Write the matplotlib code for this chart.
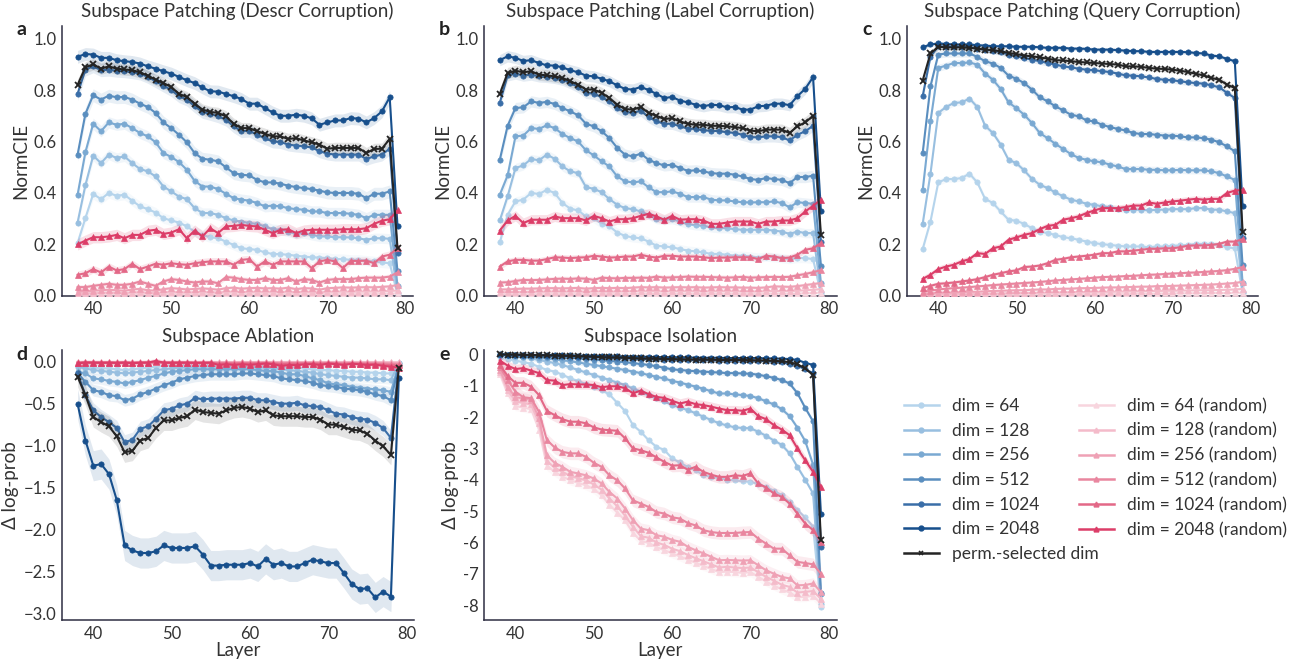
import matplotlib
matplotlib.use("Agg")
import matplotlib.pyplot as plt
from matplotlib.lines import Line2D

plt.rcParams['font.family'] = ['Lato', 'DejaVu Sans']

layers = list(range(38, 80))
dims = [64, 128, 256, 512, 1024, 2048]

# ---------------- a: Subspace Patching (Descr Corruption) ----------------
A_64 = [0.205,0.302,0.396,0.376,0.40,0.389,0.393,0.37,0.348,0.337, 0.324,0.302,0.293,0.285,0.27,0.25,0.237,0.228,0.224,0.211, 0.198,0.185,0.182,0.179,0.169,0.163,0.162,0.16,0.156,0.153, 0.15,0.149,0.147,0.143,0.143,0.14,0.14,0.137,0.134,0.13, 0.127,0.005]
A_128 = [0.285,0.43,0.545,0.516,0.549,0.536,0.542,0.516,0.493,0.484, 0.464,0.425,0.406,0.386,0.376,0.341,0.322,0.322,0.315,0.302, 0.293,0.289,0.283,0.28,0.27,0.259,0.257,0.25,0.241,0.244, 0.237,0.231,0.231,0.228,0.228,0.227,0.224,0.218,0.224,0.224, 0.222,0.01]
A_256 = [0.393,0.558,0.669,0.64,0.674,0.665,0.669,0.652,0.633,0.62, 0.597,0.555,0.54,0.52,0.49,0.447,0.425,0.425,0.415,0.397, 0.38,0.374,0.37,0.361,0.348,0.351,0.348,0.341,0.337,0.335, 0.328,0.328,0.322,0.322,0.322,0.319,0.315,0.302,0.315,0.315, 0.315,0.04]
A_512 = [0.549,0.707,0.78,0.763,0.778,0.772,0.773,0.763,0.747,0.734, 0.711,0.674,0.652,0.626,0.597,0.555,0.533,0.529,0.523,0.50, 0.477,0.471,0.468,0.451,0.441,0.441,0.436,0.428,0.423,0.419, 0.415,0.409,0.402,0.40,0.40,0.40,0.397,0.38,0.397,0.397, 0.406,0.095]
A_1024 = [0.785,0.879,0.892,0.877,0.879,0.875,0.873,0.869,0.864,0.851, 0.834,0.817,0.80,0.776,0.763,0.737,0.715,0.707,0.698,0.685, 0.659,0.64,0.642,0.626,0.613,0.60,0.598,0.588,0.584,0.581, 0.577,0.562,0.553,0.549,0.549,0.549,0.549,0.532,0.542,0.549, 0.572,0.166]
A_2048 = [0.929,0.94,0.938,0.925,0.925,0.916,0.912,0.909,0.903,0.892, 0.883,0.873,0.864,0.851,0.838,0.827,0.81,0.795,0.794,0.785, 0.776,0.765,0.747,0.747,0.73,0.713,0.70,0.70,0.704,0.70, 0.69,0.665,0.674,0.682,0.682,0.691,0.689,0.674,0.691,0.717, 0.772,0.27]
A_perm = [0.82,0.888,0.90,0.883,0.892,0.883,0.88,0.877,0.869,0.856, 0.84,0.827,0.812,0.785,0.773,0.747,0.724,0.715,0.711,0.698, 0.669,0.652,0.652,0.64,0.63,0.62,0.62,0.61,0.613,0.604, 0.597,0.588,0.572,0.575,0.575,0.575,0.575,0.555,0.571,0.572, 0.61,0.185]
A_r64 = [0.004,0.005,0.005,0.006,0.006,0.006,0.005,0.006,0.007,0.006, 0.005,0.007,0.007,0.007,0.006,0.007,0.007,0.007,0.006,0.008, 0.008,0.007,0.007,0.008,0.007,0.008,0.007,0.008,0.007,0.008, 0.007,0.006,0.008,0.008,0.008,0.008,0.008,0.008,0.008,0.009, 0.009,0.01]
A_r128 = [0.009,0.01,0.011,0.012,0.013,0.012,0.011,0.013,0.014,0.012, 0.011,0.014,0.015,0.014,0.013,0.014,0.015,0.014,0.013,0.016, 0.016,0.015,0.015,0.016,0.015,0.016,0.015,0.016,0.014,0.016, 0.015,0.013,0.016,0.016,0.017,0.016,0.017,0.017,0.017,0.018, 0.019,0.021]
A_r256 = [0.016,0.018,0.02,0.022,0.024,0.022,0.02,0.025,0.027,0.022, 0.02,0.026,0.03,0.028,0.025,0.027,0.029,0.027,0.024,0.03, 0.032,0.028,0.03,0.031,0.029,0.03,0.028,0.032,0.026,0.03, 0.029,0.024,0.03,0.031,0.033,0.032,0.033,0.034,0.033,0.035, 0.037,0.042]
A_r512 = [0.034,0.034,0.039,0.043,0.047,0.043,0.043,0.047,0.056,0.047, 0.039,0.056,0.065,0.062,0.056,0.052,0.056,0.056,0.049,0.073, 0.071,0.065,0.062,0.062,0.069,0.062,0.062,0.069,0.056,0.065, 0.062,0.052,0.062,0.065,0.065,0.065,0.069,0.071,0.071,0.071, 0.075,0.091]
A_r1024 = [0.082,0.088,0.104,0.091,0.114,0.099,0.104,0.125,0.104,0.114, 0.125,0.121,0.127,0.123,0.121,0.127,0.131,0.134,0.134,0.134, 0.121,0.14,0.143,0.114,0.134,0.121,0.134,0.134,0.134,0.134, 0.108,0.134,0.14,0.134,0.108,0.136,0.136,0.137,0.127,0.153, 0.16,0.185]
A_r2048 = [0.20,0.215,0.228,0.228,0.231,0.237,0.224,0.237,0.237,0.253, 0.257,0.241,0.246,0.259,0.224,0.254,0.231,0.263,0.244,0.27, 0.272,0.276,0.272,0.27,0.257,0.244,0.257,0.259,0.244,0.254, 0.257,0.257,0.257,0.257,0.259,0.259,0.259,0.263,0.28,0.292, 0.298,0.332]

# ---------------- b: Subspace Patching (Label Corruption) ----------------
B_64 = [0.208,0.315,0.367,0.374,0.40,0.396,0.412,0.40,0.361,0.339, 0.332,0.309,0.302,0.28,0.27,0.246,0.233,0.227,0.224,0.211, 0.195,0.192,0.189,0.182,0.176,0.173,0.169,0.163,0.163,0.16, 0.156,0.156,0.153,0.149,0.153,0.15,0.147,0.143,0.147,0.147, 0.143,0.008]
B_128 = [0.293,0.387,0.497,0.507,0.532,0.527,0.549,0.533,0.503,0.484, 0.477,0.423,0.416,0.403,0.376,0.354,0.341,0.337,0.328,0.315, 0.298,0.296,0.298,0.289,0.279,0.274,0.272,0.266,0.263,0.263, 0.259,0.257,0.257,0.257,0.257,0.254,0.25,0.241,0.25,0.244, 0.244,0.017]
B_256 = [0.393,0.468,0.62,0.623,0.652,0.649,0.663,0.652,0.629,0.613, 0.60,0.566,0.546,0.523,0.503,0.464,0.445,0.441,0.445,0.422, 0.403,0.403,0.406,0.397,0.384,0.384,0.384,0.374,0.371,0.371, 0.367,0.364,0.363,0.364,0.364,0.367,0.361,0.344,0.364,0.361, 0.358,0.05]
B_512 = [0.529,0.661,0.73,0.733,0.756,0.75,0.754,0.746,0.73,0.717, 0.702,0.669,0.659,0.64,0.613,0.575,0.549,0.542,0.553,0.529, 0.516,0.507,0.51,0.497,0.486,0.488,0.484,0.477,0.475,0.475, 0.471,0.464,0.454,0.451,0.458,0.454,0.451,0.438,0.462,0.462, 0.467,0.118]
B_1024 = [0.75,0.857,0.864,0.856,0.86,0.853,0.851,0.847,0.84,0.827, 0.812,0.789,0.786,0.772,0.756,0.73,0.715,0.711,0.72,0.695, 0.678,0.669,0.669,0.659,0.65,0.649,0.643,0.642,0.64,0.636, 0.633,0.626,0.617,0.616,0.62,0.62,0.617,0.604,0.626,0.64, 0.661,0.211]
B_2048 = [0.916,0.931,0.925,0.913,0.916,0.905,0.896,0.895,0.888,0.877, 0.869,0.856,0.853,0.844,0.834,0.818,0.804,0.802,0.812,0.80, 0.785,0.769,0.773,0.759,0.752,0.743,0.737,0.743,0.741,0.733, 0.734,0.724,0.724,0.737,0.739,0.747,0.747,0.741,0.776,0.805, 0.85,0.328]
B_perm = [0.785,0.866,0.875,0.869,0.873,0.86,0.857,0.853,0.847,0.834, 0.821,0.802,0.802,0.789,0.769,0.743,0.726,0.724,0.734,0.711, 0.70,0.687,0.691,0.678,0.669,0.665,0.665,0.661,0.661,0.659, 0.656,0.652,0.642,0.64,0.646,0.646,0.646,0.633,0.659,0.674, 0.70,0.237]
B_r64 = [0.006,0.006,0.007,0.007,0.007,0.007,0.007,0.008,0.007,0.008, 0.008,0.007,0.008,0.008,0.007,0.008,0.008,0.008,0.008,0.008, 0.008,0.008,0.008,0.008,0.008,0.008,0.008,0.008,0.008,0.008, 0.008,0.008,0.008,0.008,0.008,0.009,0.009,0.009,0.009,0.01, 0.011,0.012]
B_r128 = [0.014,0.014,0.015,0.015,0.016,0.016,0.016,0.017,0.016,0.017, 0.017,0.016,0.017,0.017,0.016,0.017,0.017,0.018,0.018,0.018, 0.018,0.017,0.018,0.018,0.018,0.018,0.017,0.018,0.018,0.018, 0.018,0.017,0.017,0.017,0.018,0.019,0.019,0.019,0.02,0.022, 0.024,0.026]
B_r256 = [0.025,0.025,0.027,0.028,0.028,0.029,0.03,0.03,0.029,0.03, 0.031,0.028,0.03,0.031,0.03,0.031,0.03,0.032,0.034,0.033, 0.034,0.032,0.033,0.034,0.033,0.034,0.032,0.033,0.034,0.033, 0.033,0.032,0.032,0.031,0.033,0.037,0.036,0.035,0.038,0.042, 0.046,0.05]
B_r512 = [0.052,0.053,0.058,0.062,0.061,0.062,0.064,0.066,0.067,0.066, 0.068,0.067,0.062,0.071,0.069,0.068,0.07,0.07,0.071,0.07, 0.075,0.071,0.072,0.073,0.075,0.074,0.074,0.073,0.072,0.071, 0.072,0.074,0.071,0.072,0.073,0.074,0.073,0.074,0.08,0.085, 0.092,0.1]
B_r1024 = [0.114,0.134,0.14,0.14,0.137,0.137,0.143,0.15,0.149,0.147, 0.149,0.15,0.156,0.153,0.149,0.15,0.153,0.153,0.16,0.153, 0.149,0.156,0.156,0.153,0.153,0.153,0.15,0.147,0.149,0.149, 0.15,0.15,0.15,0.143,0.156,0.153,0.147,0.149,0.16,0.179, 0.185,0.205]
B_r2048 = [0.254,0.293,0.311,0.283,0.296,0.296,0.296,0.309,0.302,0.302, 0.302,0.293,0.311,0.302,0.289,0.298,0.298,0.302,0.311,0.319, 0.309,0.296,0.311,0.296,0.298,0.298,0.293,0.28,0.28,0.285, 0.289,0.289,0.289,0.28,0.289,0.289,0.293,0.293,0.302,0.328, 0.35,0.374]

# ---------------- c: Subspace Patching (Query Corruption) ----------------
C_64 = [0.182,0.289,0.441,0.454,0.454,0.458,0.475,0.441,0.377,0.361, 0.328,0.296,0.292,0.28,0.263,0.25,0.244,0.237,0.228,0.224, 0.218,0.211,0.205,0.201,0.198,0.195,0.192,0.192,0.192,0.189, 0.192,0.192,0.195,0.196,0.198,0.202,0.202,0.202,0.198,0.189, 0.185,0.01]
C_128 = [0.28,0.475,0.711,0.734,0.75,0.752,0.767,0.734,0.661,0.633, 0.588,0.529,0.516,0.488,0.455,0.432,0.419,0.402,0.387,0.374, 0.367,0.358,0.354,0.348,0.345,0.337,0.335,0.335,0.335,0.332, 0.335,0.335,0.337,0.337,0.337,0.341,0.341,0.335,0.335,0.328, 0.322,0.017]
C_256 = [0.41,0.678,0.886,0.895,0.905,0.905,0.907,0.899,0.864,0.84, 0.804,0.752,0.73,0.704,0.672,0.633,0.613,0.591,0.571,0.551, 0.536,0.529,0.523,0.519,0.51,0.503,0.493,0.493,0.493,0.49, 0.49,0.488,0.488,0.49,0.488,0.488,0.488,0.484,0.477,0.464, 0.451,0.05]
C_512 = [0.555,0.815,0.938,0.942,0.942,0.942,0.942,0.929,0.912,0.903, 0.886,0.856,0.844,0.827,0.802,0.772,0.756,0.737,0.721,0.704, 0.698,0.682,0.678,0.665,0.656,0.649,0.643,0.633,0.629,0.629, 0.626,0.623,0.623,0.62,0.616,0.616,0.613,0.607,0.597,0.581, 0.562,0.12]
C_1024 = [0.776,0.93,0.97,0.968,0.968,0.968,0.966,0.961,0.957,0.953, 0.947,0.938,0.931,0.925,0.918,0.912,0.905,0.899,0.892,0.888, 0.883,0.879,0.877,0.873,0.87,0.864,0.857,0.856,0.853,0.849, 0.843,0.84,0.838,0.834,0.83,0.827,0.825,0.818,0.811,0.789, 0.769,0.224]
C_2048 = [0.966,0.977,0.981,0.979,0.977,0.977,0.977,0.974,0.973,0.97, 0.97,0.97,0.968,0.968,0.968,0.966,0.964,0.964,0.964,0.961, 0.961,0.96,0.957,0.957,0.957,0.955,0.953,0.951,0.951,0.948, 0.948,0.948,0.948,0.948,0.947,0.944,0.942,0.934,0.931,0.921, 0.912,0.348]
C_perm = [0.837,0.942,0.968,0.966,0.966,0.966,0.964,0.961,0.957,0.955, 0.951,0.944,0.94,0.934,0.931,0.927,0.922,0.916,0.915,0.912, 0.909,0.907,0.905,0.903,0.901,0.899,0.892,0.892,0.89,0.886, 0.883,0.882,0.879,0.875,0.87,0.863,0.857,0.847,0.84,0.821, 0.808,0.25]
C_r64 = [0.002,0.002,0.003,0.003,0.003,0.003,0.004,0.004,0.004,0.004, 0.005,0.005,0.005,0.005,0.006,0.006,0.006,0.006,0.007,0.007, 0.007,0.007,0.008,0.008,0.008,0.008,0.008,0.009,0.009,0.009, 0.009,0.01,0.01,0.01,0.01,0.01,0.011,0.011,0.011,0.011, 0.012,0.012]
C_r128 = [0.004,0.005,0.006,0.006,0.007,0.007,0.008,0.008,0.009,0.009, 0.01,0.01,0.011,0.011,0.012,0.012,0.013,0.013,0.014,0.014, 0.015,0.015,0.016,0.016,0.016,0.017,0.017,0.018,0.018,0.019, 0.019,0.02,0.02,0.021,0.021,0.022,0.022,0.022,0.023,0.024, 0.025,0.027]
C_r256 = [0.008,0.01,0.012,0.013,0.013,0.015,0.016,0.016,0.018,0.019, 0.02,0.021,0.022,0.022,0.024,0.025,0.025,0.027,0.028,0.028, 0.03,0.03,0.031,0.032,0.033,0.033,0.034,0.035,0.036,0.036, 0.038,0.038,0.039,0.04,0.041,0.042,0.043,0.044,0.046,0.048, 0.05,0.055]
C_r512 = [0.016,0.02,0.025,0.028,0.03,0.032,0.034,0.037,0.039,0.042, 0.044,0.046,0.048,0.05,0.052,0.054,0.057,0.06,0.062,0.064, 0.066,0.068,0.071,0.073,0.074,0.075,0.077,0.078,0.08,0.082, 0.083,0.085,0.087,0.088,0.09,0.091,0.093,0.095,0.097,0.1, 0.105,0.112]
C_r1024 = [0.03,0.039,0.047,0.049,0.052,0.056,0.06,0.065,0.073,0.082, 0.088,0.095,0.099,0.112,0.114,0.118,0.127,0.14,0.144,0.15, 0.153,0.156,0.16,0.166,0.166,0.173,0.173,0.176,0.179,0.183, 0.183,0.185,0.185,0.189,0.195,0.196,0.196,0.198,0.202,0.211, 0.211,0.22]
C_r2048 = [0.066,0.082,0.104,0.114,0.121,0.134,0.143,0.166,0.163,0.185, 0.192,0.218,0.227,0.237,0.244,0.259,0.272,0.276,0.296,0.302, 0.309,0.322,0.332,0.341,0.341,0.341,0.345,0.351,0.351,0.363, 0.358,0.363,0.367,0.37,0.374,0.377,0.374,0.377,0.377,0.40, 0.409,0.412]

# ---------------- d: Subspace Ablation ----------------
D_64 = [-0.04,-0.05,-0.07,-0.08,-0.08,-0.09,-0.10,-0.09,-0.08,-0.07, -0.06,-0.05,-0.05,-0.04,-0.04,-0.04,-0.04,-0.03,-0.03,-0.03, -0.03,-0.03,-0.03,-0.04,-0.04,-0.05,-0.06,-0.07,-0.07,-0.08, -0.09,-0.10,-0.10,-0.11,-0.11,-0.12,-0.12,-0.13,-0.13,-0.14, -0.14,-0.01]
D_128 = [-0.06,-0.08,-0.10,-0.11,-0.12,-0.13,-0.14,-0.13,-0.12,-0.11, -0.10,-0.09,-0.08,-0.07,-0.07,-0.06,-0.06,-0.06,-0.06,-0.06, -0.06,-0.06,-0.06,-0.07,-0.07,-0.08,-0.09,-0.10,-0.11,-0.12, -0.13,-0.15,-0.16,-0.17,-0.18,-0.19,-0.19,-0.20,-0.21,-0.21, -0.22,-0.02]
D_256 = [-0.12,-0.14,-0.20,-0.21,-0.23,-0.24,-0.26,-0.24,-0.22,-0.19, -0.17,-0.14,-0.12,-0.11,-0.10,-0.09,-0.09,-0.09,-0.09,-0.09, -0.09,-0.09,-0.09,-0.10,-0.11,-0.11,-0.13,-0.15,-0.15,-0.17, -0.20,-0.22,-0.26,-0.27,-0.28,-0.30,-0.31,-0.32,-0.33,-0.34, -0.36,-0.03]
D_512 = [-0.14,-0.24,-0.34,-0.36,-0.40,-0.41,-0.46,-0.44,-0.39,-0.36, -0.32,-0.28,-0.25,-0.21,-0.19,-0.17,-0.16,-0.15,-0.15,-0.15, -0.15,-0.14,-0.14,-0.15,-0.16,-0.17,-0.20,-0.21,-0.22,-0.23, -0.25,-0.28,-0.29,-0.30,-0.32,-0.33,-0.34,-0.36,-0.39,-0.41, -0.46,-0.04]
D_1024 = [-0.14,-0.40,-0.58,-0.66,-0.72,-0.79,-0.96,-0.93,-0.80,-0.77, -0.68,-0.58,-0.56,-0.52,-0.50,-0.43,-0.45,-0.44,-0.44,-0.44, -0.44,-0.43,-0.43,-0.46,-0.46,-0.48,-0.50,-0.50,-0.49,-0.52, -0.53,-0.54,-0.58,-0.62,-0.63,-0.66,-0.68,-0.69,-0.73,-0.79, -0.91,-0.04]
D_2048 = [-0.505,-0.94,-1.24,-1.22,-1.34,-1.65,-2.19,-2.25,-2.28,-2.28, -2.26,-2.19,-2.22,-2.22,-2.22,-2.20,-2.30,-2.43,-2.43,-2.42, -2.42,-2.42,-2.40,-2.44,-2.35,-2.42,-2.40,-2.44,-2.44,-2.40, -2.36,-2.38,-2.40,-2.40,-2.52,-2.65,-2.71,-2.70,-2.81,-2.74, -2.80,-0.20]
D_perm = [-0.18,-0.40,-0.66,-0.72,-0.77,-0.89,-1.08,-1.06,-0.94,-0.91, -0.79,-0.70,-0.70,-0.67,-0.65,-0.57,-0.60,-0.61,-0.62,-0.58, -0.55,-0.54,-0.56,-0.60,-0.58,-0.64,-0.65,-0.65,-0.65,-0.66, -0.66,-0.69,-0.75,-0.75,-0.78,-0.81,-0.82,-0.86,-0.94,-1.01, -1.11,-0.08]
D_r64 = [-0.002,-0.002,-0.003,-0.002,-0.002,-0.003,-0.002,-0.002,-0.003,-0.002, -0.002,-0.003,-0.002,-0.002,-0.003,-0.002,-0.003,-0.002,-0.003,-0.003, -0.003,-0.002,-0.003,-0.003,-0.002,-0.003,-0.003,-0.002,-0.003,-0.003, -0.003,-0.002,-0.003,-0.003,-0.003,-0.003,-0.002,-0.003,-0.003,-0.004, -0.004,-0.004]
D_r128 = [-0.004,-0.003,-0.004,-0.004,-0.005,-0.004,-0.004,-0.005,-0.004,-0.004, -0.003,-0.004,-0.005,-0.004,-0.004,-0.005,-0.004,-0.005,-0.005,-0.005, -0.006,-0.005,-0.005,-0.006,-0.005,-0.006,-0.006,-0.005,-0.006,-0.006, -0.005,-0.006,-0.006,-0.006,-0.007,-0.006,-0.006,-0.007,-0.007,-0.008, -0.008,-0.009]
D_r256 = [-0.006,-0.005,-0.006,-0.007,-0.006,-0.007,-0.006,-0.008,-0.007,-0.006, -0.004,-0.007,-0.007,-0.006,-0.007,-0.008,-0.007,-0.008,-0.01,-0.009, -0.01,-0.009,-0.01,-0.01,-0.009,-0.01,-0.012,-0.01,-0.011,-0.01, -0.01,-0.011,-0.01,-0.011,-0.012,-0.011,-0.012,-0.012,-0.013,-0.015, -0.016,-0.018]
D_r512 = [-0.01,-0.008,-0.009,-0.01,-0.009,-0.011,-0.009,-0.012,-0.01,-0.009, -0.005,-0.01,-0.011,-0.01,-0.01,-0.012,-0.011,-0.012,-0.017,-0.015, -0.017,-0.015,-0.016,-0.015,-0.013,-0.016,-0.02,-0.017,-0.018,-0.016, -0.016,-0.018,-0.015,-0.017,-0.019,-0.016,-0.018,-0.019,-0.02,-0.024, -0.028,-0.03]
D_r1024 = [-0.014,-0.01,-0.012,-0.013,-0.012,-0.016,-0.012,-0.015,-0.013,-0.012, -0.004,-0.013,-0.014,-0.013,-0.013,-0.015,-0.017,-0.014,-0.024,-0.021, -0.024,-0.021,-0.023,-0.021,-0.018,-0.022,-0.03,-0.024,-0.025,-0.022, -0.022,-0.027,-0.02,-0.023,-0.028,-0.022,-0.026,-0.028,-0.028,-0.036, -0.042,-0.045]
D_r2048 = [-0.02,-0.01,-0.012,-0.013,-0.012,-0.014,-0.011,-0.018,-0.012,-0.011, 0.01,-0.012,-0.013,-0.012,-0.012,-0.014,-0.013,-0.012,-0.04,-0.03, -0.04,-0.03,-0.038,-0.03,-0.022,-0.03,-0.05,-0.04,-0.042,-0.032, -0.03,-0.04,-0.022,-0.03,-0.04,-0.024,-0.032,-0.04,-0.035,-0.05, -0.06,-0.07]

# ---------------- e: Subspace Isolation ----------------
E_64 = [-0.1,-0.15,-0.2,-0.25,-0.3,-0.4,-0.5,-0.55,-0.65,-0.77, -0.85,-0.95,-1.03,-1.15,-1.28,-1.55,-1.81,-2.26,-2.47,-2.74, -2.95,-3.05,-3.32,-3.45,-3.6,-3.7,-3.85,-3.91,-3.95,-4.0, -4.02,-4.05,-4.07,-4.13,-4.24,-4.35,-4.5,-4.71,-4.97,-5.2, -5.5,-8.05]
E_128 = [-0.02,-0.04,-0.07,-0.1,-0.13,-0.18,-0.23,-0.28,-0.34,-0.42, -0.5,-0.58,-0.66,-0.74,-0.82,-0.9,-0.98,-1.09,-1.19,-1.3, -1.4,-1.5,-1.62,-1.7,-1.78,-1.88,-1.99,-2.1,-2.2,-2.27, -2.33,-2.35,-2.36,-2.47,-2.6,-2.75,-2.89,-3.16,-3.59,-4.0, -4.44,-7.95]
E_256 = [-0.02,-0.03,-0.05,-0.07,-0.09,-0.11,-0.13,-0.16,-0.19,-0.22, -0.26,-0.3,-0.34,-0.38,-0.42,-0.46,-0.5,-0.55,-0.6,-0.66, -0.72,-0.77,-0.85,-0.9,-0.97,-1.03,-1.1,-1.18,-1.25,-1.25, -1.28,-1.3,-1.33,-1.4,-1.5,-1.6,-1.75,-1.97,-2.34,-2.77, -3.52,-7.65]
E_512 = [-0.01,-0.02,-0.03,-0.04,-0.05,-0.06,-0.07,-0.08,-0.1,-0.11, -0.13,-0.15,-0.17,-0.19,-0.21,-0.23,-0.25,-0.28,-0.31,-0.34, -0.38,-0.43,-0.48,-0.5,-0.52,-0.54,-0.55,-0.57,-0.58,-0.6, -0.6,-0.61,-0.62,-0.65,-0.7,-0.75,-0.82,-0.93,-1.24,-1.71, -2.14,-7.6]
E_1024 = [-0.01,-0.01,-0.02,-0.02,-0.03,-0.03,-0.04,-0.05,-0.05,-0.06, -0.07,-0.08,-0.09,-0.1,-0.11,-0.12,-0.13,-0.14,-0.15,-0.16, -0.16,-0.17,-0.17,-0.18,-0.18,-0.19,-0.19,-0.19,-0.2,-0.2, -0.2,-0.2,-0.21,-0.21,-0.22,-0.24,-0.26,-0.3,-0.36,-0.48, -0.6,-6.14]
E_2048 = [0.0,-0.01,-0.01,-0.01,-0.02,-0.02,-0.02,-0.02,-0.03,-0.03, -0.04,-0.04,-0.05,-0.05,-0.06,-0.06,-0.07,-0.07,-0.08,-0.08, -0.09,-0.09,-0.1,-0.1,-0.1,-0.11,-0.11,-0.11,-0.11,-0.12, -0.12,-0.12,-0.12,-0.12,-0.13,-0.13,-0.14,-0.15,-0.18,-0.27, -0.34,-5.08]
E_perm = [0.0,-0.01,-0.01,-0.02,-0.02,-0.03,-0.03,-0.04,-0.05,-0.05, -0.06,-0.07,-0.08,-0.09,-0.1,-0.1,-0.11,-0.12,-0.13,-0.14, -0.14,-0.15,-0.15,-0.16,-0.16,-0.17,-0.17,-0.17,-0.18,-0.18, -0.18,-0.18,-0.19,-0.19,-0.2,-0.21,-0.22,-0.25,-0.32,-0.45, -0.66,-5.93]
E_r64 = [-0.62,-1.25,-1.65,-1.7,-1.75,-2.4,-3.55,-3.75,-3.9,-4.02, -4.1,-4.18,-4.3,-4.5,-4.8,-5.05,-5.3,-5.7,-5.95,-6.02, -6.15,-6.25,-6.35,-6.45,-6.55,-6.65,-6.75,-6.85,-6.95,-6.93, -6.95,-6.97,-6.95,-7.1,-7.25,-7.38,-7.5,-7.6,-7.75,-7.74, -7.7,-7.95]
E_r128 = [-0.55,-1.15,-1.5,-1.55,-1.6,-2.2,-3.4,-3.62,-3.75,-3.88, -3.95,-4.02,-4.15,-4.32,-4.6,-4.85,-5.15,-5.5,-5.8,-5.85, -6.0,-6.08,-6.2,-6.28,-6.4,-6.5,-6.6,-6.7,-6.8,-6.78, -6.8,-6.82,-6.8,-6.95,-7.1,-7.22,-7.35,-7.42,-7.6,-7.58, -7.55,-7.8]
E_r256 = [-0.5,-1.04,-1.37,-1.4,-1.46,-2.04,-3.22,-3.46,-3.59,-3.75, -3.8,-3.86,-3.96,-4.12,-4.39,-4.6,-4.92,-5.29,-5.56,-5.61, -5.77,-5.82,-5.92,-5.98,-6.14,-6.25,-6.35,-6.46,-6.57,-6.56, -6.57,-6.58,-6.57,-6.73,-6.89,-7.0,-7.1,-7.15,-7.37,-7.36, -7.31,-7.58]
E_r512 = [-0.4,-0.82,-1.19,-1.37,-1.4,-1.83,-2.73,-2.97,-3.11,-3.16, -3.16,-3.27,-3.46,-3.59,-3.86,-4.02,-4.28,-4.66,-4.76,-4.87, -5.03,-5.08,-5.2,-5.24,-5.38,-5.46,-5.61,-5.67,-5.7,-5.7, -5.7,-5.68,-5.67,-5.88,-6.04,-6.2,-6.2,-6.41,-6.62,-6.66, -6.7,-7.0]
E_r1024 = [-0.34,-0.69,-0.91,-0.91,-1.03,-1.3,-1.8,-1.94,-2.07,-2.15, -2.15,-2.2,-2.33,-2.4,-2.42,-2.44,-2.68,-3.0,-3.06,-3.14, -3.29,-3.43,-3.55,-3.54,-3.68,-3.59,-3.75,-3.84,-3.91,-3.91, -3.86,-3.88,-3.8,-4.12,-4.25,-4.44,-4.55,-4.76,-5.08,-5.4, -5.61,-5.98]
E_r2048 = [-0.2,-0.36,-0.47,-0.44,-0.52,-0.6,-0.82,-0.84,-0.98,-0.95, -0.96,-0.96,-0.98,-1.05,-1.02,-1.02,-1.08,-1.24,-1.16,-1.27, -1.36,-1.39,-1.48,-1.57,-1.51,-1.59,-1.62,-1.67,-1.73,-1.78, -1.78,-1.8,-1.73,-1.97,-2.07,-2.26,-2.4,-2.58,-3.0,-3.38, -3.75,-4.23]

# half-widths of the shaded intervals (per series, ordered by dim)
A_band_dim = [0.02, 0.02, 0.022, 0.025, 0.025, 0.025]
A_band_rand = [0.004, 0.006, 0.008, 0.01, 0.015, 0.022]
A_band_perm = 0.022
B_band_dim = [0.018, 0.018, 0.02, 0.022, 0.022, 0.022]
B_band_rand = [0.004, 0.006, 0.008, 0.01, 0.012, 0.02]
B_band_perm = 0.022
C_band_dim = [0.012, 0.012, 0.014, 0.014, 0.012, 0.008]
C_band_rand = [0.003, 0.004, 0.005, 0.007, 0.009, 0.012]
C_band_perm = 0.012
D_band_dim = [0.04, 0.05, 0.06, 0.07, 0.09, 0.18]
D_band_rand = [0.01, 0.01, 0.01, 0.015, 0.02, 0.03]
D_band_perm = 0.12
E_band_dim = [0.06, 0.08, 0.08, 0.08, 0.05, 0.03]
E_band_rand = [0.15, 0.16, 0.18, 0.2, 0.2, 0.15]
E_band_perm = 0.04

BLUES = ['#b5d4ec', '#98bfe0', '#7aa9d2', '#5a8ebf', '#3a6ea8', '#174f8c']
REDS = ['#f8d5de', '#f4bbca', '#efa1b5', '#e9869f', '#e36887', '#dc3d68']
PERM = '#242424'
SPINE = '#2e2e42'
TEXT = '#333333'

panels = [
    dict(letter='a', title='Subspace Patching (Descr Corruption)', ylabel='NormCIE',
         dim=[A_64, A_128, A_256, A_512, A_1024, A_2048],
         rand=[A_r64, A_r128, A_r256, A_r512, A_r1024, A_r2048], perm=A_perm,
         bd=A_band_dim, br=A_band_rand, bp=A_band_perm),
    dict(letter='b', title='Subspace Patching (Label Corruption)', ylabel='NormCIE',
         dim=[B_64, B_128, B_256, B_512, B_1024, B_2048],
         rand=[B_r64, B_r128, B_r256, B_r512, B_r1024, B_r2048], perm=B_perm,
         bd=B_band_dim, br=B_band_rand, bp=B_band_perm),
    dict(letter='c', title='Subspace Patching (Query Corruption)', ylabel='NormCIE',
         dim=[C_64, C_128, C_256, C_512, C_1024, C_2048],
         rand=[C_r64, C_r128, C_r256, C_r512, C_r1024, C_r2048], perm=C_perm,
         bd=C_band_dim, br=C_band_rand, bp=C_band_perm),
    dict(letter='d', title='Subspace Ablation', ylabel='\u0394 log-prob',
         dim=[D_64, D_128, D_256, D_512, D_1024, D_2048],
         rand=[D_r64, D_r128, D_r256, D_r512, D_r1024, D_r2048], perm=D_perm,
         bd=D_band_dim, br=D_band_rand, bp=D_band_perm),
    dict(letter='e', title='Subspace Isolation', ylabel='\u0394 log-prob',
         dim=[E_64, E_128, E_256, E_512, E_1024, E_2048],
         rand=[E_r64, E_r128, E_r256, E_r512, E_r1024, E_r2048], perm=E_perm,
         bd=E_band_dim, br=E_band_rand, bp=E_band_perm),
]

positions = {
    'a': [0.048, 0.551, 0.272, 0.410],
    'b': [0.375, 0.551, 0.273, 0.410],
    'c': [0.7026, 0.551, 0.272, 0.410],
    'd': [0.048, 0.059, 0.273, 0.410],
    'e': [0.375, 0.059, 0.273, 0.410],
}

fig = plt.figure(figsize=(12.91, 6.59), dpi=100)


def draw_series(ax, ys, half, color, marker, ms, mew, z, alpha):
    lo = [y - half for y in ys]
    hi = [y + half for y in ys]
    ax.fill_between(layers, lo, hi, color=color, alpha=alpha, linewidth=0, zorder=z)
    ax.plot(layers, ys, color=color, lw=1.5, marker=marker, ms=ms,
            mew=mew, mec=color, mfc=color, zorder=z + 0.5)


for p in panels:
    ax = fig.add_axes(positions[p['letter']])
    for i in range(6):
        draw_series(ax, p['dim'][i], p['bd'][i], BLUES[i], 'o', 3.8, 0.5,
                    2 + i * 0.01, 0.13)
    for i in range(6):
        draw_series(ax, p['rand'][i], p['br'][i], REDS[i], '^', 3.8, 0.5,
                    3 + i * 0.01, 0.16)
    draw_series(ax, p['perm'], p['bp'], PERM, 'x', 4.2, 1.3, 4, 0.12)

    ax.set_xlim(36, 81)
    ax.set_xticks([40, 50, 60, 70, 80])
    if p['letter'] in 'abc':
        ax.set_ylim(0, 1.05)
        ax.set_yticks([0, 0.2, 0.4, 0.6, 0.8, 1.0])
        ax.set_yticklabels(['0.0', '0.2', '0.4', '0.6', '0.8', '1.0'])
    elif p['letter'] == 'd':
        ax.set_ylim(-3.08, 0.14)
        ticks = [0.0, -0.5, -1.0, -1.5, -2.0, -2.5, -3.0]
        ax.set_yticks(ticks)
        ax.set_yticklabels(['0.0'] + ['\u2212%.1f' % -t for t in ticks[1:]])
        ax.set_xlabel('Layer', fontsize=13.5, color=TEXT, labelpad=0)
    else:
        ax.set_ylim(-8.48, 0.14)
        ticks = [0, -1, -2, -3, -4, -5, -6, -7, -8]
        ax.set_yticks(ticks)
        ax.set_yticklabels(['0'] + ['-%d' % -t for t in ticks[1:]])
        ax.set_xlabel('Layer', fontsize=13.5, color=TEXT, labelpad=0)

    for s in ('top', 'right'):
        ax.spines[s].set_visible(False)
    for s in ('left', 'bottom'):
        ax.spines[s].set_color(SPINE)
        ax.spines[s].set_linewidth(1.1)
    ax.tick_params(length=0, pad=4, labelsize=12, labelcolor=TEXT)
    ax.set_ylabel(p['ylabel'], fontsize=13.5, color=TEXT, labelpad=3)
    ax.set_title(p['title'], fontsize=13.5, color=TEXT, pad=6)

letter_pos = {'a': (0.013, 0.955), 'b': (0.340, 0.955),
              'c': (0.668, 0.955), 'd': (0.013, 0.462), 'e': (0.340, 0.462)}
for k, (x, y) in letter_pos.items():
    fig.text(x, y, k, fontsize=14, fontweight='bold', color='#222222',
             ha='left', va='center')

# legend: two columns built as two legends
left_handles = [Line2D([], [], color=BLUES[i], lw=1.8, marker='o', ms=3.5, mec=BLUES[i])
                for i in range(6)]
left_handles.append(Line2D([], [], color=PERM, lw=1.8, marker='x', ms=3.5, mew=1.2))
left_labels = ['dim = %d' % d for d in dims] + ['perm.-selected dim']
right_handles = [Line2D([], [], color=REDS[i], lw=1.8, marker='^', ms=3.5, mec=REDS[i])
                 for i in range(6)]
right_labels = ['dim = %d (random)' % d for d in dims]

leg_kw = dict(frameon=False, fontsize=12.5, handlelength=2.0, handletextpad=0.75,
              labelspacing=0.5, borderaxespad=0, borderpad=0, labelcolor=TEXT)
fig.legend(left_handles, left_labels, loc='upper left',
           bbox_to_anchor=(904 / 1291, 1 - 398 / 659), **leg_kw)
fig.legend(right_handles, right_labels, loc='upper left',
           bbox_to_anchor=(1079 / 1291, 1 - 398 / 659), **leg_kw)

fig.savefig('out.png', dpi=100)
